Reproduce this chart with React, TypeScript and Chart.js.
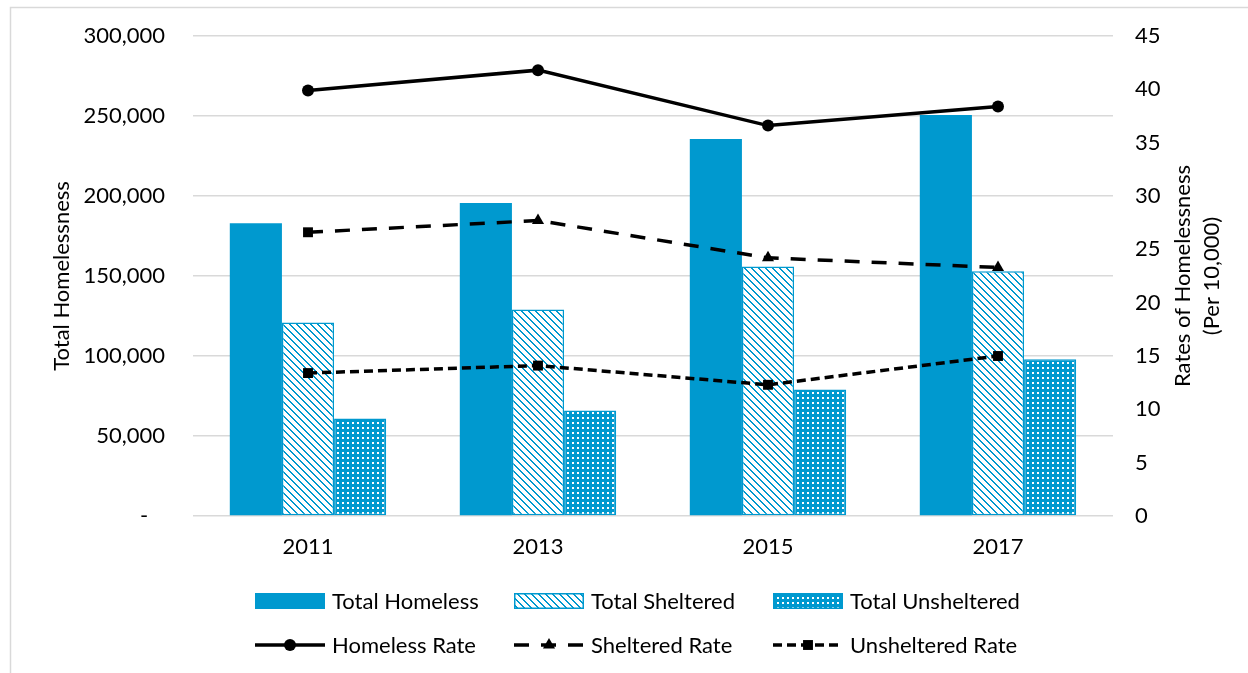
import React, { useEffect, useRef } from 'react';
import { Chart, registerables } from 'chart.js';

Chart.register(...registerables);

const years = ['2011', '2013', '2015', '2017'];
const totalHomeless = [183000, 195600, 235600, 250600];
const totalSheltered = [121000, 129000, 156000, 153000];
const totalUnsheltered = [61000, 66000, 79000, 98000];
const homelessRate = [39.9, 41.8, 36.6, 38.4];
const shelteredRate = [26.6, 27.7, 24.2, 23.3];
const unshelteredRate = [13.4, 14.1, 12.3, 15.0];
const shelteredMarkers = ['rect', 'triangle', 'triangle', 'triangle'];

const leftMax = 300000;
const leftStep = 50000;
const rightMax = 45;
const rightStep = 5;

const leftTitle = 'Total Homelessness';
const rightTitle = ['Rates of Homelessness', '(Per 10,000)'];

const BLUE = '#0099CF';
const FONT = 'Lato';
const FS = 22;

function makeHatch(): CanvasPattern | string {
  const n = 7;
  const c = document.createElement('canvas');
  c.width = n;
  c.height = n;
  const g = c.getContext('2d')!;
  g.fillStyle = '#fff';
  g.fillRect(0, 0, n, n);
  g.fillStyle = BLUE;
  for (let y = 0; y < n; y++) {
    for (let x = 0; x < n; x++) {
      if ((((x - y) % n) + n) % n < 2) g.fillRect(x, y, 1, 1);
    }
  }
  return g.createPattern(c, 'repeat') || BLUE;
}

function makeDots(): CanvasPattern | string {
  const w = 5;
  const h = 5;
  const c = document.createElement('canvas');
  c.width = w;
  c.height = h;
  const g = c.getContext('2d')!;
  g.fillStyle = BLUE;
  g.fillRect(0, 0, w, h);
  g.fillStyle = '#fff';
  g.fillRect(2, 2, 2, 2);
  return g.createPattern(c, 'repeat') || BLUE;
}

function drawMarker(ctx: CanvasRenderingContext2D, style: string, x: number, y: number, r: number) {
  ctx.beginPath();
  if (style === 'circle') {
    ctx.arc(x, y, r, 0, Math.PI * 2);
  } else if (style === 'triangle') {
    for (let i = 0; i < 3; i++) {
      const a = -Math.PI / 2 + (i * 2 * Math.PI) / 3;
      const px = x + Math.cos(a) * r;
      const py = y + Math.sin(a) * r;
      if (i === 0) ctx.moveTo(px, py);
      else ctx.lineTo(px, py);
    }
    ctx.closePath();
  } else {
    const s = r * Math.SQRT2;
    ctx.rect(x - s / 2, y - s / 2, s, s);
  }
  ctx.fill();
}

export default function App() {
  const ref = useRef<HTMLCanvasElement | null>(null);

  useEffect(() => {
    document.body.style.margin = '0';
    const canvas = ref.current!;
    const hatch = makeHatch();
    const dots = makeDots();

    const framePlugin = {
      id: 'frameAndTitles',
      beforeDraw(chart: any) {
        const ctx = chart.ctx;
        ctx.save();
        ctx.strokeStyle = '#d9d9d9';
        ctx.lineWidth = 1.5;
        ctx.beginPath();
        ctx.moveTo(10.5, 673);
        ctx.lineTo(10.5, 7.5);
        ctx.lineTo(1248, 7.5);
        ctx.stroke();
        ctx.restore();
      },
      afterDraw(chart: any) {
        const ctx: CanvasRenderingContext2D = chart.ctx;
        const area = chart.chartArea;
        const midY = (area.top + area.bottom) / 2;
        ctx.save();
        ctx.fillStyle = '#000';
        ctx.font = `${FS}px ${FONT}`;
        ctx.textAlign = 'center';
        ctx.textBaseline = 'middle';
        ctx.save();
        ctx.translate(62, midY);
        ctx.rotate(-Math.PI / 2);
        ctx.fillText(leftTitle, 0, 0);
        ctx.restore();
        ctx.save();
        ctx.translate(1183, midY);
        ctx.rotate(-Math.PI / 2);
        rightTitle.forEach((t, i) => ctx.fillText(t, 0, i * 29));
        ctx.restore();

        // legend
        const ds = chart.data.datasets;
        const cols = [255, 514, 773];
        const rows = [601, 645];
        ctx.textAlign = 'left';
        ds.forEach((d: any) => {
          const row = d.type === 'bar' ? 0 : 1;
          const x = cols[d.legendCol];
          const y = rows[row];
          if (d.type === 'bar') {
            ctx.fillStyle = d.backgroundColor;
            ctx.fillRect(x, y - 8, 70, 16);
            ctx.strokeStyle = BLUE;
            ctx.lineWidth = 1.5;
            ctx.strokeRect(x + 0.75, y - 8 + 0.75, 68.5, 14.5);
          } else {
            ctx.strokeStyle = '#000';
            ctx.lineWidth = d.borderWidth;
            ctx.setLineDash(d.borderDash || []);
            ctx.beginPath();
            ctx.moveTo(x, y);
            ctx.lineTo(x + 70, y);
            ctx.stroke();
            ctx.setLineDash([]);
            ctx.fillStyle = '#000';
            const st = Array.isArray(d.pointStyle) ? d.pointStyle[d.pointStyle.length - 1] : d.pointStyle;
            drawMarker(ctx, st, x + 35, y, d.pointRadius);
          }
          ctx.fillStyle = '#000';
          ctx.fillText(d.label, x + 77, y + 1);
        });
        ctx.restore();
      },
    };

    const fitY = (w: number) => (s: any) => {
      s.width = w;
      s.paddingTop = 0;
      s.paddingBottom = 0;
    };

    const chart = new Chart(canvas, {
      type: 'bar',
      data: {
        labels: years,
        datasets: [
          {
            type: 'bar',
            label: 'Total Homeless',
            data: totalHomeless,
            backgroundColor: BLUE,
            borderColor: BLUE,
            borderWidth: 0,
            yAxisID: 'y',
            order: 2,
            legendCol: 0,
          } as any,
          {
            type: 'bar',
            label: 'Total Sheltered',
            data: totalSheltered,
            backgroundColor: hatch,
            borderColor: BLUE,
            borderWidth: 1.5,
            borderSkipped: false,
            yAxisID: 'y',
            order: 2,
            legendCol: 1,
          } as any,
          {
            type: 'bar',
            label: 'Total Unsheltered',
            data: totalUnsheltered,
            backgroundColor: dots,
            borderColor: BLUE,
            borderWidth: 1.5,
            borderSkipped: false,
            yAxisID: 'y',
            order: 2,
            legendCol: 2,
          } as any,
          {
            type: 'line',
            label: 'Homeless Rate',
            data: homelessRate,
            borderColor: '#000',
            backgroundColor: '#000',
            borderWidth: 3.5,
            pointStyle: 'circle',
            pointRadius: 6,
            pointBorderWidth: 0,
            tension: 0,
            yAxisID: 'y1',
            order: 0,
            legendCol: 0,
          } as any,
          {
            type: 'line',
            label: 'Sheltered Rate',
            data: shelteredRate,
            borderColor: '#000',
            backgroundColor: '#000',
            borderWidth: 3.5,
            borderDash: [15, 12],
            pointStyle: shelteredMarkers,
            pointRadius: 7,
            pointBorderWidth: 0,
            tension: 0,
            yAxisID: 'y1',
            order: 0,
            legendCol: 1,
          } as any,
          {
            type: 'line',
            label: 'Unsheltered Rate',
            data: unshelteredRate,
            borderColor: '#000',
            backgroundColor: '#000',
            borderWidth: 3.5,
            borderDash: [9, 5],
            pointStyle: 'rect',
            pointRadius: 7,
            pointBorderWidth: 0,
            tension: 0,
            yAxisID: 'y1',
            order: 0,
            legendCol: 2,
          } as any,
        ],
      },
      options: {
        animation: false,
        responsive: true,
        maintainAspectRatio: false,
        layout: { padding: { top: 36, left: 0, right: 0, bottom: 0 } },
        datasets: {
          bar: { barPercentage: 1, categoryPercentage: 0.68 },
        },
        plugins: {
          legend: { display: false },
          tooltip: { enabled: false },
          title: { display: false },
        },
        scales: {
          x: {
            grid: { display: false, drawTicks: false },
            border: { display: false },
            ticks: { color: '#000', font: { family: FONT, size: FS }, padding: 18 },
            afterFit: (s: any) => {
              s.height = 157;
              s.paddingLeft = 0;
              s.paddingRight = 0;
            },
          },
          y: {
            position: 'left',
            min: 0,
            max: leftMax,
            grid: { color: '#d9d9d9', lineWidth: 1.5, drawTicks: false },
            border: { display: false },
            ticks: {
              stepSize: leftStep,
              color: '#000',
              font: { family: FONT, size: FS },
              padding: 28,
              callback: (v: any) => (Number(v) === 0 ? '-   ' : Number(v).toLocaleString('en-US')),
            },
            afterFit: fitY(193),
          },
          y1: {
            position: 'right',
            min: 0,
            max: rightMax,
            grid: { display: false, drawTicks: false, drawOnChartArea: false },
            border: { display: false },
            ticks: {
              stepSize: rightStep,
              color: '#000',
              font: { family: FONT, size: FS },
              padding: 22,
            },
            afterFit: fitY(135),
          },
        },
      } as any,
      plugins: [framePlugin],
    });

    return () => chart.destroy();
  }, []);

  return (
    <div style={{ position: 'relative', width: 1248, height: 673 }}>
      <canvas ref={ref} />
    </div>
  );
}
